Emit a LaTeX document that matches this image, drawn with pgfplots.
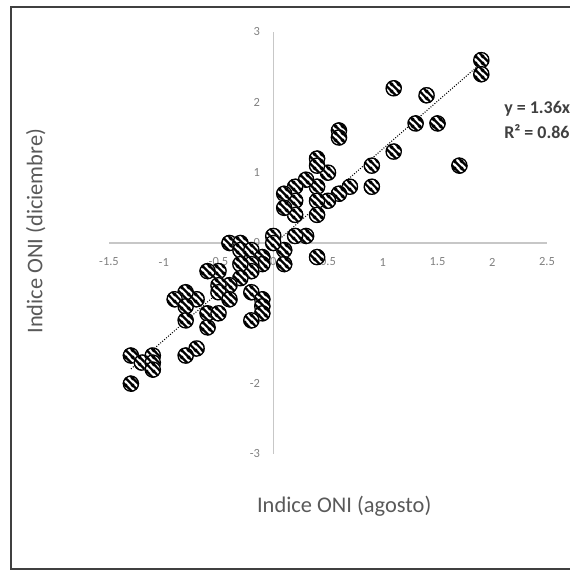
\documentclass[border=0pt]{standalone}
\usepackage{fontspec}
\setmainfont{Carlito}
\usepackage{pgfplots}
\pgfplotsset{compat=1.18}
\usetikzlibrary{patterns}

\pgfdeclarepatternformonly{mystripes}{\pgfpoint{0bp}{0bp}}{\pgfpoint{7bp}{7bp}}{\pgfpoint{7bp}{7bp}}{%
  \pgfsetlinewidth{2.5bp}%
  \pgfpathmoveto{\pgfpoint{-1bp}{1bp}}\pgfpathlineto{\pgfpoint{1bp}{-1bp}}%
  \pgfpathmoveto{\pgfpoint{-1bp}{8bp}}\pgfpathlineto{\pgfpoint{8bp}{-1bp}}%
  \pgfpathmoveto{\pgfpoint{6bp}{8bp}}\pgfpathlineto{\pgfpoint{8bp}{6bp}}%
  \pgfusepath{stroke}}

\pgfdeclareplotmark{hatchcircle}{%
  \pgfpathcircle{\pgfpointorigin}{8.2bp}%
  \pgfsetfillcolor{white}\pgfusepathqfill
  \pgfpathcircle{\pgfpointorigin}{8.2bp}%
  \pgfsetfillpattern{mystripes}{black}\pgfusepathqfill
  \pgfpathcircle{\pgfpointorigin}{7.6bp}%
  \pgfsetlinewidth{1.3bp}\pgfsetstrokecolor{black}\pgfusepathqstroke
}

\begin{document}
\begin{tikzpicture}
\draw[line width=1.5bp, color=black!75] (11bp,5bp) rectangle (600bp,567bp);
\begin{axis}[
  at={(109bp,120bp)}, anchor=south west,
  scale only axis, width=438bp, height=422bp,
  xmin=-1.5, xmax=2.5, ymin=-3, ymax=3,
  axis lines=middle,
  axis line style={draw=black!22, line width=1.4bp, -},
  set layers, clip=false,
  xtick={-1.5,-1,-0.5,0,0.5,1,1.5,2,2.5},
  xticklabels={-1.5,-1,-0.5,0,0.5,1,1.5,2,2.5},
  ytick={-3,-2,-1,0,1,2,3},
  yticklabels={-3,-2,-1,0,1,2,3},
  hide obscured x ticks=false, hide obscured y ticks=false,
  major tick length=0pt, tick style={draw=none},
  ticklabel style={font=\fontsize{12.5}{14}\selectfont, text=black!50},
  xticklabel style={anchor=center, yshift=-19bp},
  yticklabel style={anchor=east, inner sep=0pt, xshift=-13bp},
  xlabel={Indice ONI (agosto)},
  ylabel={Indice ONI (diciembre)},
  xlabel style={at={(rel axis cs:0.537,-0.123)}, anchor=center, font=\fontsize{22.5}{26}\selectfont, text=black!65},
  ylabel style={at={(rel axis cs:-0.167,0.528)}, anchor=center, rotate=90, font=\fontsize{22.5}{26}\selectfont, text=black!65},
]
\addplot[only marks, mark=hatchcircle] coordinates {
(1.9,2.6) (1.9,2.4) (1.1,2.2) (1.4,2.1) (1.3,1.7) (1.5,1.7) (0.6,1.6) (0.6,1.5)
(1.1,1.3) (1.7,1.1) (0.9,1.1) (0.9,0.8) (0.7,0.8) (0.6,0.7) (0.5,0.6) (0.5,1.0)
(0.4,1.2) (0.4,1.1) (0.4,0.8) (0.4,0.6) (0.4,0.4) (0.3,0.9) (0.2,0.8) (0.2,0.6)
(0.2,0.4) (0.1,0.7) (0.1,0.5) (0.3,0.1) (0.2,0.1) (0.1,-0.1) (0.1,-0.3) (0,0.1)
(0,0) (0.4,-0.2)
(-0.4,0) (-0.3,0) (-0.3,-0.1) (-0.2,-0.1) (-0.1,-0.2) (-0.1,-0.3) (-0.2,-0.3)
(-0.2,-0.4) (-0.3,-0.3) (-0.3,-0.5) (-0.4,-0.6) (-0.5,-0.4) (-0.6,-0.4) (-0.5,-0.6)
(-0.5,-0.7) (-0.4,-0.8) (-0.2,-0.7) (-0.1,-0.8) (-0.1,-0.9) (-0.1,-1.0) (-0.2,-1.1)
(-0.6,-1.0) (-0.5,-1.0) (-0.6,-1.2) (-0.7,-0.8) (-0.8,-0.7) (-0.9,-0.8) (-0.8,-0.9)
(-0.8,-1.1) (-0.7,-1.5) (-0.8,-1.6) (-1.3,-1.6) (-1.1,-1.6) (-1.2,-1.7) (-1.1,-1.7)
(-1.1,-1.8) (-1.3,-2.0)
};
\addplot[black, line width=1bp, dash pattern=on 1bp off 1.6bp] coordinates {(-1.3,-1.79) (1.9,2.56)};
\node[anchor=west, inner sep=0pt, font=\bfseries\fontsize{18}{20}\selectfont, text=black!75] at (rel axis cs:0.902,0.8175) {y = 1.36x};
\node[anchor=west, inner sep=0pt, font=\bfseries\fontsize{18}{20}\selectfont, text=black!75] at (rel axis cs:0.902,0.765) {R² = 0.86};
\end{axis}
\pgfresetboundingbox
\useasboundingbox (0bp,0bp) rectangle (570bp,574bp);
\end{tikzpicture}
\end{document}
